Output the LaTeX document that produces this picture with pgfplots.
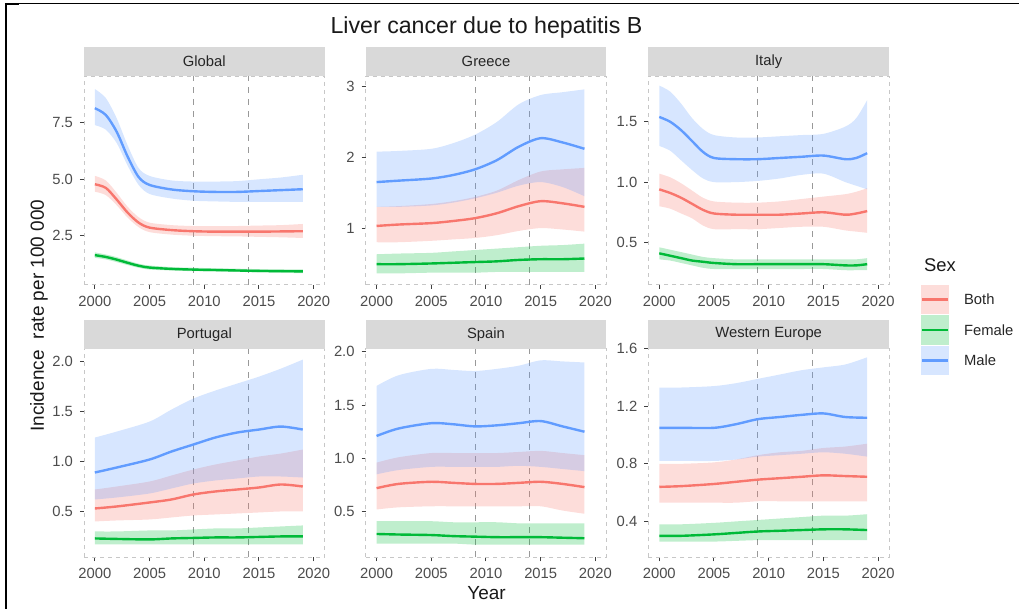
\documentclass[border=0pt]{standalone}
\usepackage{pgfplots}
\pgfplotsset{compat=1.18}
\usepgfplotslibrary{fillbetween}
\usepackage{pgfplotstable}
\usepackage{fontspec}
\setmainfont{Liberation Sans}

\definecolor{cboth}{HTML}{F8766D}
\definecolor{cfem}{HTML}{00BA38}
\definecolor{cmale}{HTML}{619CFF}
\definecolor{stripgrey}{HTML}{D9D9D9}

\pgfplotstableread{
year bl bm bu fl fm fu ml mm mu
2000 4.45 4.78 5.15 1.52 1.64 1.76 7.40 8.15 9.00
2001 4.30 4.62 4.95 1.45 1.56 1.67 7.20 7.85 8.60
2002 3.85 4.10 4.40 1.33 1.44 1.55 6.60 7.10 7.70
2003 3.30 3.52 3.78 1.20 1.30 1.40 5.60 6.00 6.50
2004 2.88 3.08 3.32 1.08 1.17 1.26 4.75 5.10 5.50
2005 2.66 2.86 3.08 1.00 1.09 1.18 4.35 4.75 5.15
2007 2.55 2.75 2.97 0.96 1.03 1.11 4.15 4.55 4.95
2009 2.50 2.70 2.93 0.93 1.00 1.08 4.05 4.47 4.90
2011 2.48 2.68 2.92 0.92 0.98 1.06 4.02 4.44 4.90
2013 2.47 2.68 2.93 0.90 0.96 1.04 4.00 4.44 4.92
2015 2.45 2.68 2.95 0.88 0.94 1.02 4.00 4.48 5.00
2017 2.43 2.69 2.97 0.86 0.93 1.01 4.00 4.52 5.08
2019 2.40 2.70 3.02 0.84 0.92 1.01 4.00 4.56 5.20
}\tglobal

\pgfplotstableread{
year bl bm bu fl fm fu ml mm mu
2000 0.80 1.03 1.30 0.36 0.49 0.63 1.30 1.65 2.08
2002 0.80 1.05 1.31 0.36 0.49 0.64 1.30 1.67 2.09
2005 0.82 1.07 1.34 0.37 0.50 0.65 1.32 1.70 2.12
2007 0.84 1.10 1.38 0.37 0.51 0.67 1.36 1.75 2.20
2009 0.86 1.14 1.44 0.37 0.52 0.69 1.42 1.83 2.32
2011 0.90 1.21 1.53 0.38 0.53 0.71 1.50 1.96 2.50
2013 0.96 1.31 1.68 0.38 0.55 0.73 1.60 2.15 2.75
2015 1.00 1.38 1.80 0.38 0.56 0.75 1.65 2.27 2.88
2017 0.98 1.35 1.83 0.38 0.56 0.76 1.58 2.21 2.92
2019 0.95 1.30 1.85 0.38 0.57 0.78 1.45 2.12 2.96
}\tgreece

\pgfplotstableread{
year bl bm bu fl fm fu ml mm mu
2000 0.80 0.94 1.07 0.36 0.41 0.46 1.30 1.54 1.80
2001 0.78 0.91 1.04 0.35 0.39 0.44 1.26 1.50 1.75
2002 0.74 0.87 0.99 0.33 0.37 0.42 1.18 1.43 1.65
2003 0.70 0.82 0.93 0.31 0.35 0.40 1.10 1.34 1.53
2004 0.64 0.77 0.87 0.29 0.34 0.38 1.03 1.25 1.44
2005 0.61 0.74 0.84 0.28 0.33 0.37 1.00 1.20 1.39
2007 0.61 0.73 0.83 0.28 0.32 0.36 1.00 1.19 1.37
2009 0.61 0.73 0.83 0.28 0.32 0.36 1.01 1.19 1.37
2011 0.62 0.73 0.84 0.28 0.32 0.36 1.03 1.20 1.38
2013 0.63 0.74 0.86 0.28 0.32 0.36 1.06 1.21 1.39
2015 0.63 0.75 0.88 0.28 0.32 0.36 1.07 1.22 1.40
2017 0.60 0.73 0.90 0.27 0.31 0.36 1.00 1.19 1.46
2018 0.59 0.74 0.92 0.27 0.31 0.36 0.97 1.20 1.53
2019 0.58 0.76 0.95 0.27 0.32 0.37 0.94 1.24 1.68
}\titaly

\pgfplotstableread{
year bl bm bu fl fm fu ml mm mu
2000 0.40 0.53 0.72 0.17 0.230 0.30 0.62 0.89 1.24
2002 0.41 0.55 0.75 0.17 0.225 0.30 0.64 0.94 1.30
2005 0.42 0.59 0.80 0.17 0.220 0.31 0.68 1.02 1.40
2007 0.44 0.62 0.86 0.17 0.230 0.31 0.73 1.10 1.52
2009 0.46 0.67 0.92 0.17 0.235 0.32 0.78 1.17 1.63
2011 0.47 0.70 0.97 0.17 0.240 0.33 0.81 1.24 1.71
2013 0.48 0.72 1.01 0.17 0.240 0.33 0.83 1.29 1.78
2015 0.49 0.74 1.05 0.17 0.245 0.34 0.85 1.32 1.85
2017 0.50 0.77 1.08 0.17 0.250 0.35 0.85 1.35 1.93
2019 0.50 0.75 1.12 0.17 0.250 0.36 0.84 1.32 2.02
}\tportugal

\pgfplotstableread{
year bl bm bu fl fm fu ml mm mu
2000 0.52 0.72 0.96 0.20 0.290 0.41 0.85 1.21 1.68
2002 0.54 0.76 1.01 0.20 0.285 0.41 0.89 1.28 1.78
2005 0.55 0.78 1.05 0.20 0.280 0.41 0.92 1.33 1.84
2007 0.55 0.77 1.05 0.20 0.270 0.40 0.92 1.32 1.83
2009 0.55 0.76 1.05 0.19 0.265 0.40 0.92 1.30 1.82
2011 0.55 0.76 1.05 0.19 0.260 0.40 0.92 1.31 1.84
2013 0.55 0.77 1.06 0.19 0.260 0.39 0.93 1.33 1.87
2015 0.55 0.78 1.07 0.19 0.260 0.39 0.92 1.35 1.92
2017 0.51 0.76 1.05 0.19 0.255 0.39 0.90 1.30 1.91
2019 0.48 0.73 1.03 0.19 0.250 0.39 0.88 1.25 1.90
}\tspain

\pgfplotstableread{
year bl bm bu fl fm fu ml mm mu
2000 0.53 0.640 0.80 0.260 0.300 0.38 0.82 1.050 1.33
2002 0.53 0.645 0.80 0.260 0.300 0.38 0.82 1.050 1.33
2005 0.53 0.660 0.81 0.260 0.310 0.39 0.82 1.050 1.34
2007 0.53 0.675 0.83 0.265 0.320 0.40 0.83 1.075 1.36
2009 0.54 0.690 0.86 0.270 0.330 0.41 0.85 1.110 1.39
2011 0.54 0.700 0.88 0.270 0.335 0.42 0.86 1.125 1.42
2013 0.54 0.710 0.89 0.270 0.340 0.43 0.87 1.140 1.45
2015 0.54 0.720 0.91 0.270 0.345 0.44 0.88 1.150 1.47
2017 0.54 0.715 0.92 0.270 0.345 0.44 0.87 1.125 1.49
2019 0.54 0.710 0.94 0.270 0.340 0.45 0.85 1.120 1.54
}\twesteu

\newcommand{\drawseries}[1]{%
  \addplot[name path=bl, draw=none, smooth] table[x=year,y=bl]{#1};
  \addplot[name path=bu, draw=none, smooth] table[x=year,y=bu]{#1};
  \addplot[fill=cboth, fill opacity=0.25, draw=none] fill between[of=bl and bu];
  \addplot[name path=fl, draw=none, smooth] table[x=year,y=fl]{#1};
  \addplot[name path=fu, draw=none, smooth] table[x=year,y=fu]{#1};
  \addplot[fill=cfem, fill opacity=0.25, draw=none] fill between[of=fl and fu];
  \addplot[name path=ml, draw=none, smooth] table[x=year,y=ml]{#1};
  \addplot[name path=mu, draw=none, smooth] table[x=year,y=mu]{#1};
  \addplot[fill=cmale, fill opacity=0.25, draw=none] fill between[of=ml and mu];
  \addplot[cboth, line width=1.2pt, smooth] table[x=year,y=bm]{#1};
  \addplot[cfem, line width=1.2pt, smooth] table[x=year,y=fm]{#1};
  \addplot[cmale, line width=1.2pt, smooth] table[x=year,y=mm]{#1};
}

\pgfplotsset{
  panel/.style={
    scale only axis, width=120.5pt, height=104.5pt,
    anchor=north west,
    xmin=1999, xmax=2021,
    xtick={2000,2005,2010,2015,2020},
    xticklabels={2000,2005,2010,2015,2020},
    axis line style={draw=black!22, dash pattern=on 2pt off 2pt, line width=0.4pt},
    tick align=outside, xtick pos=left, ytick pos=left,
    major tick length=2pt,
    tick style={draw=black!75, line width=0.5pt},
    ticklabel style={font=\fontsize{7.4}{8}\selectfont, text=black!70},
    extra x ticks={2009,2014}, extra x tick labels={},
    extra x tick style={grid=major, major tick length=0pt,
      major grid style={draw=black!40, dash pattern=on 3pt off 3pt, line width=0.4pt}},
  },
}

\newcommand{\strip}[2]{%
  \fill[stripgrey] ([yshift=-0.2pt]#1.north west) rectangle ([yshift=14.5pt]#1.north east);
  \node[font=\fontsize{7.4}{8}\selectfont, text=black!85] at ([yshift=7.2pt]#1.north) {#2};
}

\begin{document}
\begin{tikzpicture}
% frame
\fill[black] (2.5pt,-1.5pt) rectangle (3.5pt,-305pt);
\fill[black] (2.5pt,-1.5pt) rectangle (9.5pt,-2.5pt);
\draw[line width=0.5pt] (2.5pt,-2pt) -- (510pt,-2pt);

% Row 1
\begin{axis}[panel, name=p1, at={(42pt,-38pt)}, ymin=0.33, ymax=9.58,
  ytick={2.5,5,7.5}, yticklabels={2.5,5.0,7.5}]
\drawseries{\tglobal}
\end{axis}
\strip{p1}{Global}

\begin{axis}[panel, name=p2, at={(183pt,-38pt)}, ymin=0.2, ymax=3.15,
  ytick={1,2,3}, yticklabels={1,2,3}]
\drawseries{\tgreece}
\end{axis}
\strip{p2}{Greece}

\begin{axis}[panel, name=p3, at={(324.5pt,-38pt)}, ymin=0.15, ymax=1.88,
  ytick={0.5,1,1.5}, yticklabels={0.5,1.0,1.5}]
\drawseries{\titaly}
\end{axis}
\strip{p3}{Italy}

% Row 2
\begin{axis}[panel, name=p4, at={(42pt,-174.5pt)}, ymin=0.04, ymax=2.13,
  ytick={0.5,1,1.5,2}, yticklabels={0.5,1.0,1.5,2.0}]
\drawseries{\tportugal}
\end{axis}
\strip{p4}{Portugal}

\begin{axis}[panel, name=p5, at={(183pt,-174.5pt)}, ymin=0.07, ymax=2.03,
  ytick={0.5,1,1.5,2}, yticklabels={0.5,1.0,1.5,2.0}]
\drawseries{\tspain}
\end{axis}
\strip{p5}{Spain}

\begin{axis}[panel, name=p6, at={(324.5pt,-174.5pt)}, ymin=0.15, ymax=1.6,
  ytick={0.4,0.8,1.2,1.6}, yticklabels={0.4,0.8,1.2,1.6}]
\drawseries{\twesteu}
\end{axis}
\strip{p6}{Western Europe}

% titles
\node[font=\fontsize{11.6}{14}\selectfont, text=black!90] at (243.5pt,-14pt) {Liver cancer due to hepatitis B};
\node[font=\fontsize{9.5}{11}\selectfont, text=black!90, rotate=90] at (19.5pt,-158pt) {Incidence\hspace{0.6em}rate per 100 000};
\node[font=\fontsize{9.5}{11}\selectfont, text=black!90] at (243.5pt,-297pt) {Year};

% legend
\node[font=\fontsize{9.2}{11}\selectfont, text=black!90, anchor=west] at (459pt,-132.5pt) {Sex};
\foreach \c/\lab/\yy in {cboth/Both/-150, cfem/Female/-165.2, cmale/Male/-180.5}{
  \fill[\c, opacity=0.25] (461pt,\yy pt-7.3pt) rectangle (475pt,\yy pt+7.3pt);
  \draw[\c, line width=1.2pt] (461.5pt,\yy pt) -- (474.5pt,\yy pt);
  \node[font=\fontsize{7.4}{8}\selectfont, text=black!85, anchor=west] at (479pt,\yy pt) {\lab};
}
\path (0,0) rectangle (510pt,-305pt);
\end{tikzpicture}
\end{document}
